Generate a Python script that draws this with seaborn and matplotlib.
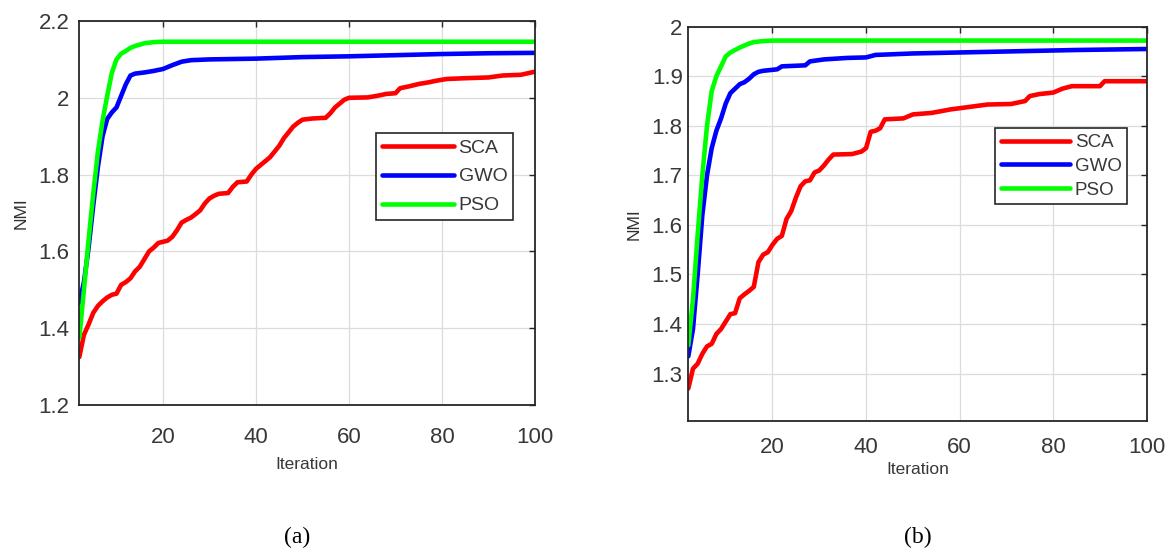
import numpy as np
import pandas as pd
import matplotlib
matplotlib.use("Agg")
import matplotlib.pyplot as plt
from matplotlib.ticker import FuncFormatter
import seaborn as sns

# ---------------- data ----------------
algorithms = ["SCA", "GWO", "PSO"]
colors = ["#ff0000", "#0000ff", "#00ff00"]

# panel (a)
a_sca_it = [2, 3, 4, 5, 6, 7, 8, 9, 10, 11, 12, 13, 14, 15, 16, 17, 18, 19, 21, 22, 23, 24, 25, 26,
            27, 28, 29, 30, 31, 32, 34, 35, 36, 38, 39, 40, 41, 42, 43, 44, 45, 46, 47, 48, 49, 50,
            52, 55, 56, 57, 58, 59, 60, 64, 66, 68, 70, 71, 73, 75, 77, 79, 81, 85, 90, 93, 97, 100]
a_sca_val = [1.325, 1.383, 1.41, 1.44, 1.458, 1.47, 1.48, 1.487, 1.49, 1.513, 1.52, 1.53, 1.548, 1.56,
             1.58, 1.60, 1.61, 1.622, 1.628, 1.638, 1.655, 1.675, 1.682, 1.688, 1.697, 1.707, 1.725,
             1.738, 1.745, 1.75, 1.752, 1.768, 1.78, 1.782, 1.80, 1.815, 1.825, 1.835, 1.845, 1.86,
             1.875, 1.895, 1.91, 1.925, 1.935, 1.943, 1.946, 1.948, 1.96, 1.975, 1.985, 1.995, 2.0,
             2.001, 2.005, 2.01, 2.012, 2.025, 2.03, 2.036, 2.04, 2.045, 2.049, 2.051, 2.053, 2.058,
             2.06, 2.068]
a_gwo_it = [2, 3, 4, 5, 6, 7, 8, 9, 10, 11, 12, 13, 14, 16, 18, 20, 22, 24, 26, 30, 40, 50, 60, 70,
            80, 90, 100]
a_gwo_val = [1.466, 1.52, 1.61, 1.72, 1.82, 1.90, 1.945, 1.962, 1.975, 2.005, 2.035, 2.058, 2.063,
             2.066, 2.07, 2.075, 2.085, 2.094, 2.098, 2.1, 2.102, 2.106, 2.108, 2.111, 2.114, 2.116,
             2.117]
a_pso_it = [2, 3, 4, 5, 6, 7, 8, 9, 10, 11, 12, 13, 14, 16, 18, 20, 100]
a_pso_val = [1.375, 1.50, 1.63, 1.75, 1.86, 1.94, 2.005, 2.065, 2.10, 2.115, 2.122, 2.13, 2.135,
             2.142, 2.145, 2.146, 2.146]

# panel (b)
b_sca_it = [2, 3, 4, 5, 6, 7, 8, 9, 10, 11, 12, 13, 14, 15, 16, 17, 18, 19, 20, 21, 22, 23, 24, 25,
            26, 27, 28, 29, 30, 31, 32, 33, 37, 39, 40, 41, 42, 43, 44, 48, 50, 54, 58, 62, 66, 71,
            74, 75, 77, 80, 82, 84, 90, 91, 100]
b_sca_val = [1.27, 1.31, 1.32, 1.34, 1.355, 1.36, 1.38, 1.39, 1.405, 1.42, 1.422, 1.452, 1.46,
             1.467, 1.475, 1.525, 1.54, 1.545, 1.56, 1.572, 1.578, 1.612, 1.628, 1.655, 1.678, 1.688,
             1.69, 1.706, 1.71, 1.72, 1.732, 1.742, 1.743, 1.748, 1.755, 1.788, 1.79, 1.795, 1.813,
             1.815, 1.823, 1.826, 1.833, 1.838, 1.843, 1.844, 1.85, 1.86, 1.864, 1.867, 1.875, 1.88,
             1.88, 1.89, 1.89]
b_gwo_it = [2, 3, 4, 5, 6, 7, 8, 9, 10, 11, 12, 13, 14, 15, 16, 17, 18, 21, 22, 27, 28, 31, 36, 40,
            42, 50, 60, 70, 85, 100]
b_gwo_val = [1.335, 1.39, 1.50, 1.62, 1.70, 1.755, 1.79, 1.815, 1.845, 1.866, 1.875, 1.884, 1.888,
             1.895, 1.904, 1.909, 1.911, 1.914, 1.92, 1.922, 1.93, 1.934, 1.937, 1.938, 1.943, 1.946,
             1.948, 1.95, 1.953, 1.955]
b_pso_it = [2, 3, 4, 5, 6, 7, 8, 9, 10, 11, 12, 13, 14, 15, 16, 18, 20, 100]
b_pso_val = [1.357, 1.45, 1.58, 1.70, 1.80, 1.87, 1.90, 1.92, 1.94, 1.948, 1.953, 1.958, 1.962,
             1.966, 1.969, 1.971, 1.972, 1.972]

x_ticks = [20, 40, 60, 80, 100]
a_y_ticks = [1.2, 1.4, 1.6, 1.8, 2.0, 2.2]
b_y_ticks = [1.3, 1.4, 1.5, 1.6, 1.7, 1.8, 1.9, 2.0]
panel_labels = ["(a)", "(b)"]


def long_df(parts):
    frames = []
    for name, its, vals in parts:
        frames.append(pd.DataFrame({"Iteration": its, "NMI": vals, "Algorithm": name}))
    return pd.concat(frames, ignore_index=True)


df_a = long_df([("SCA", a_sca_it, a_sca_val), ("GWO", a_gwo_it, a_gwo_val), ("PSO", a_pso_it, a_pso_val)])
df_b = long_df([("SCA", b_sca_it, b_sca_val), ("GWO", b_gwo_it, b_gwo_val), ("PSO", b_pso_it, b_pso_val)])

# ---------------- style ----------------
sns.set_style("white")
plt.rcParams["font.family"] = ["Liberation Sans", "DejaVu Sans"]
TXT = "#383838"
SPINE = "#262626"

W, H = 1171, 556
fig = plt.figure(figsize=(W / 100, H / 100), dpi=100)
axA = fig.add_axes([79.3 / W, 1 - 405 / H, 455.7 / W, 384 / H])
axB = fig.add_axes([688.3 / W, 1 - 420.7 / H, 458.4 / W, 394 / H])

fmt = FuncFormatter(lambda v, p: f"{v:g}")


def draw(ax, df, ylim, yticks, ypad, xpad, leg_anchor, leg_fs, leg_spacing, xlab_y, ylab_x):
    sns.lineplot(data=df, x="Iteration", y="NMI", hue="Algorithm", hue_order=algorithms,
                 palette=colors, estimator=None, linewidth=3.3, ax=ax, legend=False)
    ax.set_xlim(2, 100)
    ax.set_ylim(*ylim)
    ax.set_xticks(x_ticks)
    ax.set_yticks(yticks)
    ax.yaxis.set_major_formatter(fmt)
    ax.grid(True, color="#dcdcdc", linewidth=0.9)
    ax.set_axisbelow(True)
    for s in ax.spines.values():
        s.set_visible(True)
        s.set_color(SPINE)
        s.set_linewidth(1.3)
    ax.tick_params(axis="both", direction="in", length=4, width=1, color=SPINE,
                   labelsize=16, labelcolor=TXT, top=True, right=True)
    ax.tick_params(axis="y", pad=ypad)
    ax.tick_params(axis="x", pad=xpad)
    ax.set_xlabel("Iteration", fontsize=12.5, color=TXT)
    ax.set_ylabel("NMI", fontsize=12.5, color="#303030")
    ax.xaxis.set_label_coords(0.5, xlab_y)
    ax.yaxis.set_label_coords(ylab_x, 0.5)
    lines = ax.get_lines()[:3]
    leg = ax.legend(lines, algorithms, loc="upper left", bbox_to_anchor=leg_anchor,
                    borderaxespad=0, fontsize=leg_fs, handlelength=3.7, handletextpad=0.25,
                    labelspacing=leg_spacing, borderpad=0.3, fancybox=False, framealpha=1,
                    edgecolor=SPINE)
    leg.get_frame().set_linewidth(1.2)
    for t in leg.get_texts():
        t.set_color(TXT)


draw(axA, df_a, (1.2, 2.2), a_y_ticks, 7, 15.5, (0.651, 0.708), 14, 0.58, -0.135, -0.112)
draw(axB, df_b, (1.205, 2.0), b_y_ticks, 4, 11.5, (0.669, 0.742), 13.5, 0.36, -0.105, -0.101)

fig.text(297.5 / W, 1 - 537 / H, panel_labels[0], fontsize=17, family=["Liberation Serif"],
         ha="center", va="center", color="black")
fig.text(917.5 / W, 1 - 537 / H, panel_labels[1], fontsize=17, family=["Liberation Serif"],
         ha="center", va="center", color="black")

fig.savefig("out.png", dpi=100)
